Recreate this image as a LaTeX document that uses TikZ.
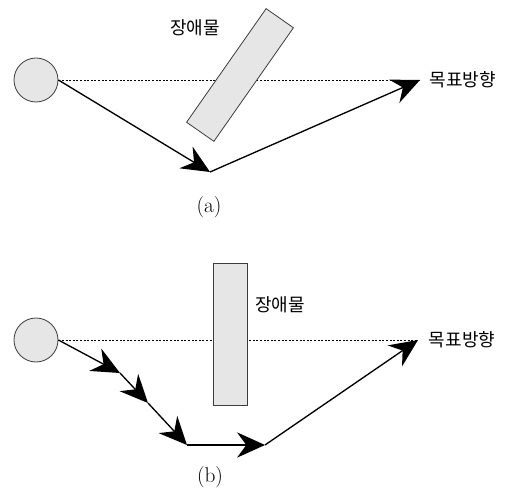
\documentclass[tikz,border=0pt]{standalone}
\usepackage{fontspec}
\newfontfamily\kor{Noto Sans CJK KR}
\usepackage{xcolor}
\usepackage{tikz}
\usetikzlibrary{arrows.meta,positioning}
\definecolor{obsgray}{RGB}{230,230,230}
\definecolor{edgegray}{RGB}{60,60,60}

\begin{document}
\begin{tikzpicture}[=>stealth,x=0.75pt,y=-0.75pt,
robot/.style={circle,draw=edgegray,fill=obsgray,line width=0.6pt,minimum size=33pt,inner sep=0pt},
obstacle/.style={rectangle,draw=edgegray,fill=obsgray,line width=0.6pt,inner sep=0pt},
goalline/.style={dash pattern=on 1.5pt off 1.2pt,line width=0.7pt},
move/.style={-{Stealth[length=21pt,width=19pt,inset=7pt]},line width=1pt},
klabel/.style={font=\kor\fontsize{13.5}{15}\selectfont},
caption/.style={font=\fontsize{16}{18}\selectfont}]
\useasboundingbox (0,0) rectangle (510,495);
% (a)
\node[robot] (robotA) at (36,80) {};
\coordinate (turnA) at (210,172);
\coordinate (tipA) at (420,80);
\draw[goalline] (robotA.east)--(tipA);
\node[obstacle,minimum width=104pt,minimum height=25pt,rotate=55] (wallA) at (240,75) {};
\node[klabel] (wallAlabel) at (195,28) {장애물};
\node[klabel,right=7pt of tipA,inner sep=0pt] (goalA) {목표방향};
\draw[move] (robotA.east)--(turnA);
\draw[move] (turnA)--(tipA);
\node[caption] (capA) at (209,207) {(a)};
% (b)
\node[robot] (robotB) at (36,340) {};
\coordinate (stepB1) at (120,373);
\coordinate (stepB2) at (148,403);
\coordinate (stepB3) at (187,445);
\coordinate (stepB4) at (265,445);
\coordinate (tipB) at (418,340);
\draw[goalline] (robotB.east)--(tipB);
\node[obstacle,minimum width=25pt,minimum height=106pt] (wallB) at (230.5,334.5) {};
\node[klabel] (wallBlabel) at (280,305) {장애물};
\node[klabel,right=8pt of tipB,inner sep=0pt] (goalB) {목표방향};
\draw[move] (robotB.east)--(stepB1);
\foreach \a/\b in {stepB1/stepB2,stepB2/stepB3,stepB3/stepB4,stepB4/tipB}
  \draw[move] (\a)--(\b);
\node[caption] (capB) at (210,477) {(b)};
\end{tikzpicture}
\end{document}
